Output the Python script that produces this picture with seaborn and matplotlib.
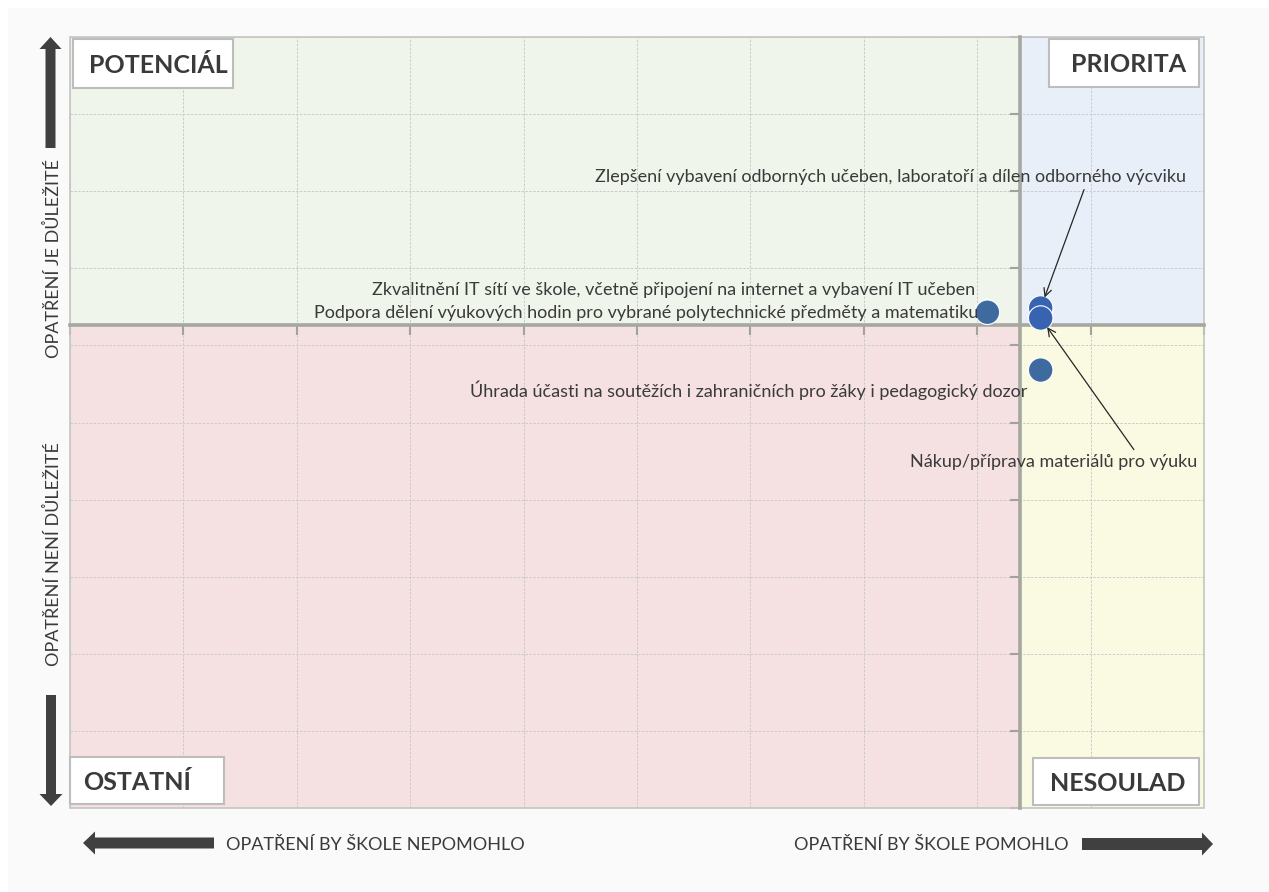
import matplotlib
matplotlib.use("Agg")
import matplotlib.pyplot as plt
from matplotlib.patches import FancyArrow, Rectangle
from matplotlib.transforms import IdentityTransform
import seaborn as sns
import pandas as pd

# ---------------- data ----------------
labels = [
    "Zkvalitnění IT sítí ve škole, včetně připojení na internet a vybavení IT učeben",
    "Podpora dělení výukových hodin pro vybrané polytechnické předměty a matematiku",
    "Zlepšení vybavení odborných učeben, laboratoří a dílen odborného výcviku",
    "Nákup/příprava materiálů pro výuku",
    "Úhrada účasti na soutěžích i zahraničních pro žáky i pedagogický dozor",
]
help_score = [80.9, 80.9, 85.6, 85.6, 85.6]        # x: opatření by škole pomohlo
importance = [64.4, 64.3, 64.85, 63.55, 56.8]      # y: opatření je důležité
point_colors = ["#3E6A9F", "#3E6A9F", "#3763B0", "#3763B0", "#3E6A9F"]
x_cross = 83.8
y_cross = 62.65
x_ticks = list(range(0, 101, 10))
y_ticks = list(range(0, 101, 10))
quadrant_names = ["POTENCIÁL", "PRIORITA", "OSTATNÍ", "NESOULAD"]
x_captions = ["OPATŘENÍ BY ŠKOLE NEPOMOHLO", "OPATŘENÍ BY ŠKOLE POMOHLO"]
y_captions = ["OPATŘENÍ JE DŮLEŽITÉ", "OPATŘENÍ NENÍ DŮLEŽITÉ"]

df = pd.DataFrame({"label": labels, "x": help_score, "y": importance})

# ---------------- figure ----------------
sns.set_theme(style="white")
plt.rcParams["font.family"] = ["Lato", "DejaVu Sans"]
TXT = "#3A3A3A"

W, H = 1269, 892
fig = plt.figure(figsize=(W / 100, H / 100), dpi=100, facecolor="white")
fig.add_artist(Rectangle((8 / W, 0), 1, 1 - 8 / H, transform=fig.transFigure,
                         facecolor="#FAFAFA", edgecolor="none", zorder=-10))

L, R, T, B = 70, 1204, 37, 808
ax = fig.add_axes([L / W, 1 - B / H, (R - L) / W, (B - T) / H])
ax.set_xlim(0, 100)
ax.set_ylim(0, 100)
ax.set_facecolor("none")

# quadrant backgrounds
quad_cols = {"tl": "#EFF5EA", "tr": "#E9EFF8", "bl": "#F5E0E2", "br": "#FAFAE3"}
ax.axvspan(0, x_cross, ymin=y_cross / 100, ymax=1, color=quad_cols["tl"], zorder=0, lw=0)
ax.axvspan(x_cross, 100, ymin=y_cross / 100, ymax=1, color=quad_cols["tr"], zorder=0, lw=0)
ax.axvspan(0, x_cross, ymin=0, ymax=y_cross / 100, color=quad_cols["bl"], zorder=0, lw=0)
ax.axvspan(x_cross, 100, ymin=0, ymax=y_cross / 100, color=quad_cols["br"], zorder=0, lw=0)

# grid
ax.set_xticks(x_ticks)
ax.set_yticks(y_ticks)
ax.grid(True, linestyle=(0, (2.5, 1.5)), color="#CACACA", linewidth=0.7, zorder=1)
ax.set_axisbelow(True)
ax.tick_params(axis="both", which="both", labelleft=False, labelbottom=False,
               direction="out", length=7, width=1.5, color="#A0A39C",
               left=True, bottom=True)

# spines as crossing axes
for s in ["top", "right"]:
    ax.spines[s].set_visible(False)
ax.spines["left"].set_position(("data", x_cross))
ax.spines["bottom"].set_position(("data", y_cross))
for s in ["left", "bottom"]:
    ax.spines[s].set_color("#A5A8A0")
    ax.spines[s].set_linewidth(2.6)
    ax.spines[s].set_zorder(3)

# outer border
ax.add_patch(Rectangle((0, 0), 1, 1, transform=ax.transAxes, fill=False,
                       edgecolor="#C3C6C0", linewidth=1.2, zorder=2, clip_on=False))

# points
sns.scatterplot(data=df, x="x", y="y", hue="label",
                palette=dict(zip(labels, point_colors)), s=310,
                edgecolor="white", linewidth=0.8, legend=False, ax=ax, zorder=5)
ax.set_xlabel("")
ax.set_ylabel("")

# point labels
lab_kw = dict(fontsize=13, color=TXT, textcoords="offset pixels", zorder=6)
ax.annotate(labels[0], (help_score[0], importance[0]), xytext=(-12, 21),
            ha="right", va="center", **lab_kw)
ax.annotate(labels[1], (help_score[1], importance[1]), xytext=(-9, -1),
            ha="right", va="center", **lab_kw)
ax.annotate(labels[4], (help_score[4], importance[4]), xytext=(-13, -20),
            ha="right", va="center", **lab_kw)
arrow_kw = dict(arrowstyle="->", color="#262626", lw=0.9, mutation_scale=14,
                shrinkA=1, shrinkB=8)
ax.annotate(labels[2], (help_score[2], importance[2]), xytext=(891 - 1041, 308 - 177),
            ha="center", va="center", arrowprops=dict(**arrow_kw, relpos=(0.83, 0.0)),
            **lab_kw)
ax.annotate(labels[3], (help_score[3], importance[3]), xytext=(1054 - 1041, 318 - 462),
            ha="center", va="center", arrowprops=dict(**arrow_kw, relpos=(0.79, 1.0)),
            **lab_kw)

# quadrant name boxes
def qbox(x0, y0, x1, y1, name, tx, ha):
    fx = lambda px: (px - L) / (R - L)
    fy = lambda py: (B - py) / (B - T)
    ax.add_patch(Rectangle((fx(x0), fy(y1)), fx(x1) - fx(x0), fy(y0) - fy(y1),
                           transform=ax.transAxes, facecolor="white",
                           edgecolor="#BDBDBD", linewidth=1.5, zorder=7, clip_on=False))
    ax.text(fx(tx), fy((y0 + y1) / 2), name, transform=ax.transAxes, ha=ha,
            va="center_baseline", fontsize=18, fontweight="bold", color=TXT, zorder=8)

qbox(73, 39, 233, 88, quadrant_names[0], 89, "left")
qbox(1049, 39, 1199, 87, quadrant_names[1], 1186, "right")
qbox(70, 757, 224, 804, quadrant_names[2], 83, "left")
qbox(1033, 758, 1199, 805, quadrant_names[3], 1186, "right")

# big arrows (pixel coordinates)
ID = IdentityTransform()
arr = dict(facecolor="#404040", edgecolor="none", length_includes_head=True,
           transform=ID, zorder=10)
def big_arrow(x0, y0, x1, y1, w, hw, hl):
    fig.add_artist(FancyArrow(x0, H - y0, x1 - x0, -(y1 - y0), width=w,
                              head_width=hw, head_length=hl, **arr))

big_arrow(50.5, 148, 50.5, 37, 10, 22, 12)
big_arrow(51, 695, 51, 806, 10, 23, 12)
big_arrow(214, 843, 83, 843, 11, 23, 12)
big_arrow(1082, 844, 1213, 844, 12, 23, 11)

cap_kw = dict(fontsize=13, color=TXT, transform=ID, va="center")
fig.text(226, H - 845, x_captions[0], ha="left", **cap_kw)
fig.text(1069, H - 845, x_captions[1], ha="right", **cap_kw)
fig.text(53, H - 258, y_captions[0], ha="center", rotation=90, **cap_kw)
fig.text(53, H - 554, y_captions[1], ha="center", rotation=90, **cap_kw)

fig.savefig("out.png", dpi=100, facecolor=fig.get_facecolor())
